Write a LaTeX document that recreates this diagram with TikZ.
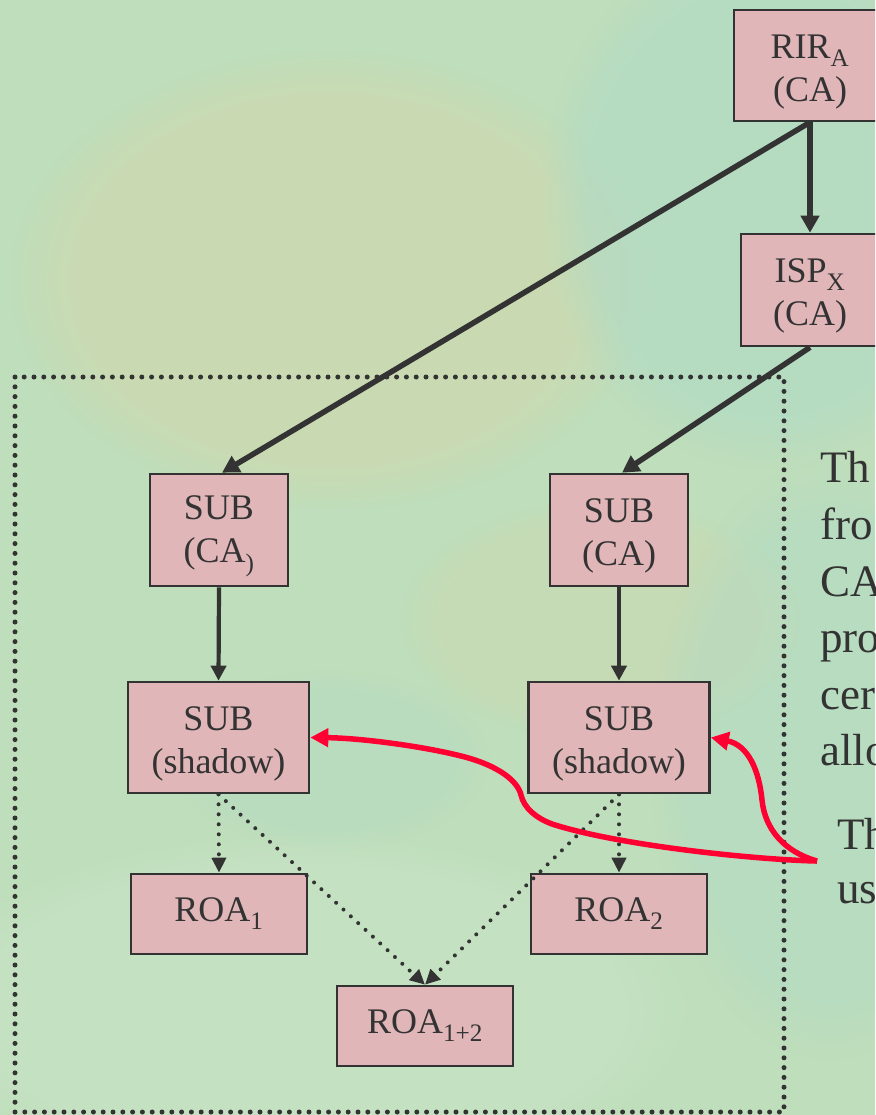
\documentclass[tikz,border=0pt]{standalone}
\usepackage{fontspec}
\setmainfont{Liberation Serif}
\usetikzlibrary{arrows.meta,fadings}

\definecolor{ink}{HTML}{333333}
\definecolor{boxfill}{HTML}{E1B6B8}
\definecolor{hot}{HTML}{FF0033}
\definecolor{bgbase}{HTML}{BFDEBB}
\definecolor{bgwarm}{HTML}{D2D8AC}
\definecolor{bgcool}{HTML}{ADDAC8}
\definecolor{bgpale}{HTML}{C8E5C6}

% extra room above the first line of two-line labels
\newcommand\capstrut{\rule{0pt}{36pt}}

\begin{document}
\begin{tikzpicture}[x=1pt,y=-1pt,
  box/.style={draw=ink, line width=2.6pt, fill=boxfill, text=ink, align=center,
    inner sep=0pt, font=\fontsize{36}{43}\selectfont},
  cabox/.style={box, minimum width=138pt, minimum height=112pt},
  shadowbox/.style={box, minimum width=181pt, minimum height=111pt},
  roabox/.style={box, minimum width=176pt, minimum height=80pt},
  heavy/.style={draw=ink, line width=5.5pt, -{Triangle[width=18pt,length=17pt]}},
  medium/.style={draw=ink, line width=4.2pt, -{Triangle[width=15pt,length=15pt]}},
  dotlink/.style={draw=ink, line width=4pt, line cap=round, dash pattern=on 0pt off 10pt,
    -{Triangle[width=14pt,length=15pt]}},
  frame/.style={draw=ink, line width=5pt, line cap=round, dash pattern=on 0pt off 9.8pt},
  hotlink/.style={draw=hot, line width=5.5pt, -{Triangle[width=18pt,length=18pt]}},
  side/.style={anchor=base west, inner sep=0pt, text=ink, font=\fontsize{45}{57}\selectfont},
  haze/.style={path fading=circle with fuzzy edge 20 percent}
]
\useasboundingbox (0,0) rectangle (875,1115);
\clip (0,0) rectangle (875,1115);

% mottled paper background
\fill[bgbase] (0,0) rectangle (875,1115);
\fill[bgwarm, opacity=0.55, haze] (330,280) ellipse (320 and 230);
\fill[bgwarm, opacity=0.35, haze] (600,620) ellipse (200 and 120);
\fill[bgcool, opacity=0.5, haze] (770,200) ellipse (230 and 270);
\fill[bgcool, opacity=0.35, haze] (830,760) ellipse (180 and 300);
\fill[bgpale, opacity=0.6, haze] (300,1010) ellipse (400 and 180);
\fill[bgcool, opacity=0.25, haze] (330,760) ellipse (160 and 90);

% dotted enclosure
\draw[frame] (15,377) rectangle (784,1112);

% certificate boxes
\node[box, minimum width=152pt, minimum height=111pt] (rir) at (810,65.5) {\capstrut RIR\textsubscript{A}\\(CA)};
\node[cabox] (isp) at (810,290) {\capstrut ISP\textsubscript{X}\\(CA)};
\node[cabox] (subl) at (219,530) {\capstrut SUB\\(CA\textsubscript{)}};
\node[cabox] (subr) at (619,530) {\capstrut SUB\\(CA)};
\node[shadowbox] (shl) at (218.5,737.5) {\capstrut SUB\\(shadow)};
\node[shadowbox] (shr) at (619,737.5) {\capstrut SUB\\(shadow)};
\node[roabox] (roa1) at (219,914) {ROA\textsubscript{1}};
\node[roabox] (roa2) at (619,914) {ROA\textsubscript{2}};
\node[roabox] (roa12) at (425,1026) {ROA\textsubscript{1+2}};

% issuance links
\draw[heavy] (rir.south) -- (isp.north);
\draw[heavy] (rir.south) -- ([xshift=3pt]subl.north);
\draw[heavy] (isp.south) -- ([xshift=3pt]subr.north);
\draw[medium] (subl.south) -- (shl.north);
\draw[medium] (subr.south) -- (shr.north);

% ROA links
\draw[dotlink] (shl.south) -- (roa1.north);
\draw[dotlink] (shl.south) -- (roa12.north);
\draw[dotlink] (shr.south) -- (roa2.north);
\draw[dotlink] (shr.south) -- (roa12.north);

% side notes
\node[side] (n1) at (820,482) {Th};
\node[side] (n2) at (820,539) {fro};
\node[side] (n3) at (820,596) {CA};
\node[side] (n4) at (820,652) {pro};
\node[side] (n5) at (820,709) {cer};
\node[side] (n6) at (820,765) {allo};
\node[side] (n7) at (837,849) {Th};
\node[side] (n8) at (837,903) {us};

% red pointers to the shadow certificates
\coordinate (rs) at (817,861);
\draw[hotlink] (rs) .. controls (760,860) and (620,846) .. (552,824)
  .. controls (536,818) and (524,808) .. (521,795)
  .. controls (518,782) and (500,765) .. (457,755)
  .. controls (420,746) and (360,738) .. (shl.east);
\draw[hotlink] (rs) .. controls (785,852) and (765,830) .. (762,800)
  .. controls (759,770) and (748,745) .. (shr.east);
\end{tikzpicture}
\end{document}
